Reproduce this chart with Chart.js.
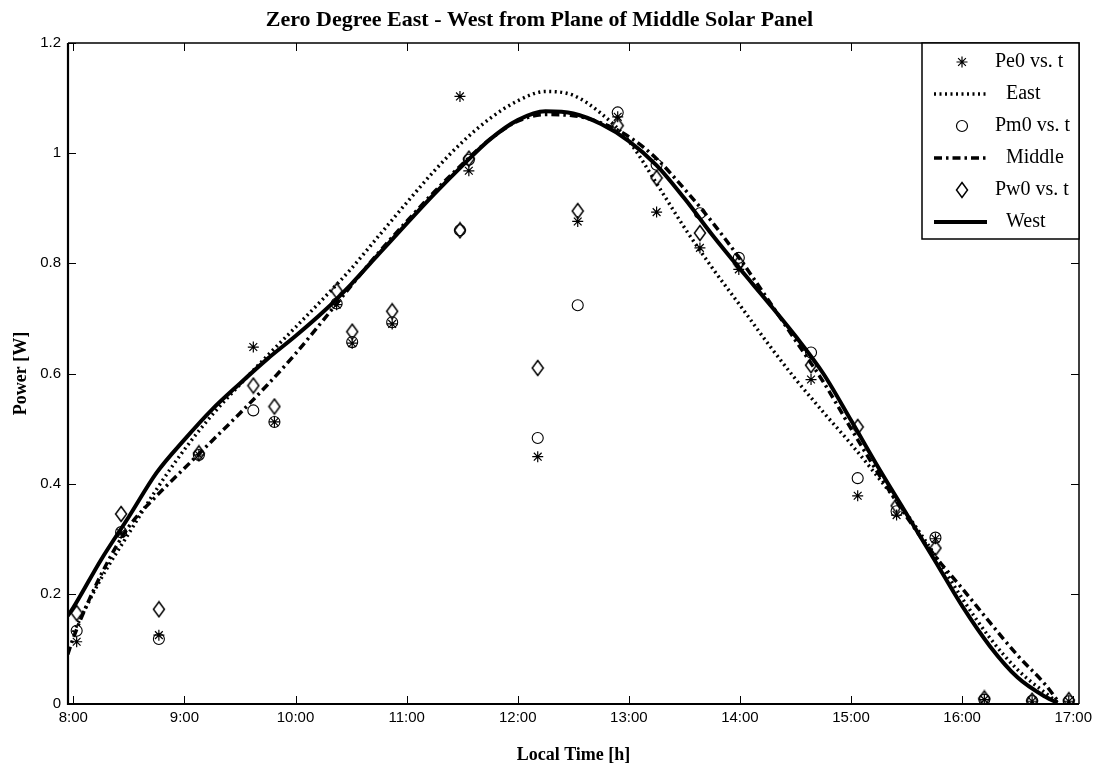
<!DOCTYPE html>
<html>
<head>
<meta charset="utf-8">
<title>Zero Degree East - West from Plane of Middle Solar Panel</title>
<script src="https://cdn.jsdelivr.net/npm/chart.js@4"></script>
<style>
  body { margin: 0; background: #fff; }
  #wrap { width: 1099px; height: 774px; }
</style>
</head>
<body>
<div id="wrap"><canvas id="chart" width="1099" height="774"></canvas></div>
<script>
// Measured points (local time in hours, power in W)
var sampleHours = [8.03, 8.43, 8.77, 9.13, 9.62, 9.81, 10.37, 10.51, 10.87, 11.48, 11.56, 12.18,
                   12.54, 12.90, 13.25, 13.64, 13.99, 14.64, 15.06, 15.41, 15.76, 16.20, 16.63, 16.96];
var pe0 = [0.113, 0.31, 0.125, 0.452, 0.648, 0.512, 0.725, 0.655, 0.69, 1.103, 0.968, 0.449,
           0.876, 1.066, 0.893, 0.828, 0.789, 0.589, 0.378, 0.343, 0.30, 0.008, 0.005, 0.005];
var pm0 = [0.133, 0.312, 0.118, 0.452, 0.533, 0.512, 0.727, 0.657, 0.693, 0.86, 0.988, 0.483,
           0.724, 1.074, 0.979, 0.891, 0.81, 0.638, 0.41, 0.35, 0.302, 0.008, 0.006, 0.005];
var pw0 = [0.165, 0.345, 0.172, 0.455, 0.578, 0.54, 0.75, 0.676, 0.713, 0.86, 0.99, 0.61,
           0.895, 1.05, 0.955, 0.855, 0.80, 0.615, 0.503, 0.36, 0.283, 0.01, 0.006, 0.007];

// Fitted curves
var fitHours = [7.95, 8.0, 8.25, 8.5, 8.75, 9.0, 9.25, 9.5, 9.75, 10.0, 10.25, 10.5, 10.75, 11.0,
                11.25, 11.5, 11.75, 12.0, 12.25, 12.5, 12.75, 13.0, 13.25, 13.5, 13.75, 14.0,
                14.25, 14.5, 14.75, 15.0, 15.25, 15.5, 15.75, 16.0, 16.25, 16.5, 16.75, 16.86];
var eastFit = [null, 0.13, 0.228, 0.31, 0.39, 0.462, 0.525, 0.58, 0.633, 0.684, 0.736, 0.79, 0.85, 0.91,
               0.968, 1.02, 1.063, 1.095, 1.112, 1.105, 1.072, 1.022, 0.945, 0.865, 0.792, 0.724,
               0.655, 0.59, 0.53, 0.472, 0.41, 0.345, 0.272, 0.192, 0.12, 0.062, 0.02, 0.003];
var middleFit = [0.09, 0.12, 0.235, 0.322, 0.378, 0.428, 0.478, 0.528, 0.58, 0.636, 0.697, 0.759, 0.82, 0.876,
                 0.93, 0.98, 1.025, 1.058, 1.07, 1.068, 1.055, 1.03, 0.99, 0.935, 0.875, 0.808,
                 0.735, 0.66, 0.585, 0.5, 0.417, 0.34, 0.27, 0.21, 0.148, 0.088, 0.035, 0.006];
var westFit = [0.16, 0.175, 0.262, 0.34, 0.42, 0.48, 0.535, 0.582, 0.627, 0.668, 0.712, 0.762, 0.817, 0.872,
               0.926, 0.977, 1.025, 1.06, 1.076, 1.072, 1.053, 1.022, 0.978, 0.918, 0.852, 0.79,
               0.73, 0.668, 0.6, 0.515, 0.428, 0.345, 0.262, 0.178, 0.105, 0.048, 0.013, 0.002];

var xTickValues = [8, 9, 10, 11, 12, 13, 14, 15, 16, 17];
var xTickLabels = ["8:00", "9:00", "10:00", "11:00", "12:00", "13:00", "14:00", "15:00", "16:00", "17:00"];
var yTickValues = [0, 0.2, 0.4, 0.6, 0.8, 1.0, 1.2];
var yTickLabels = ["0", "0.2", "0.4", "0.6", "0.8", "1", "1.2"];

function toPoints(xs, ys) {
    var out = [];
    for (var i = 0; i < xs.length; i++) {
        if (ys[i] !== null) out.push({ x: xs[i], y: ys[i] });
    }
    return out;
}

// tall open diamond like the MATLAB marker
var diamond = document.createElement("canvas");
diamond.width = 14;
diamond.height = 18;
(function() {
    var d = diamond.getContext("2d");
    d.strokeStyle = "#000";
    d.lineWidth = 1.5;
    d.beginPath();
    d.moveTo(7, 1.5); d.lineTo(12.5, 9); d.lineTo(7, 16.5); d.lineTo(1.5, 9); d.closePath();
    d.stroke();
})();

var serif = "'Liberation Serif', 'Times New Roman', serif";
var sans = "'Liberation Sans', Arial, sans-serif";

// frame with inward tick marks
var framePlugin = {
    id: "frame",
    afterDatasetsDraw: function(chart) {
        var ctx = chart.ctx, a = chart.chartArea;
        var xs = chart.scales.x, ys = chart.scales.y;
        ctx.save();
        ctx.strokeStyle = "#000";
        ctx.lineWidth = 1;
        ctx.beginPath();
        xTickValues.forEach(function(v) {
            var px = Math.round(xs.getPixelForValue(v)) + 0.5;
            ctx.moveTo(px, a.bottom); ctx.lineTo(px, a.bottom - 8);
            ctx.moveTo(px, a.top); ctx.lineTo(px, a.top + 8);
        });
        yTickValues.forEach(function(v) {
            var py = Math.round(ys.getPixelForValue(v)) + 0.5;
            ctx.moveTo(a.left, py); ctx.lineTo(a.left + 8, py);
            ctx.moveTo(a.right, py); ctx.lineTo(a.right - 8, py);
        });
        ctx.stroke();
        ctx.lineWidth = 1.5;
        ctx.beginPath();
        ctx.moveTo(a.left, a.top); ctx.lineTo(a.right, a.top); ctx.lineTo(a.right, a.bottom);
        ctx.stroke();
        ctx.lineWidth = 2.2;
        ctx.beginPath();
        ctx.moveTo(a.left, a.top); ctx.lineTo(a.left, a.bottom); ctx.lineTo(a.right, a.bottom);
        ctx.stroke();
        ctx.restore();
    }
};

// legend box in the upper right corner
var legendPlugin = {
    id: "boxLegend",
    afterDraw: function(chart) {
        var ctx = chart.ctx, a = chart.chartArea;
        var x1 = 922, y1 = a.top, x2 = a.right, y2 = 239;
        ctx.save();
        ctx.fillStyle = "#fff";
        ctx.fillRect(x1, y1, x2 - x1, y2 - y1);
        ctx.strokeStyle = "#000";
        ctx.lineWidth = 1.5;
        ctx.strokeRect(x1, y1, x2 - x1, y2 - y1);
        ctx.font = "20px " + serif;
        ctx.fillStyle = "#000";
        ctx.textBaseline = "middle";
        chart.data.datasets.forEach(function(ds, i) {
            var y = 62 + i * 32;
            var mx = 962;
            ctx.strokeStyle = "#000";
            if (ds.showLine) {
                ctx.lineWidth = ds.borderWidth;
                ctx.setLineDash(ds.borderDash || []);
                ctx.beginPath();
                ctx.moveTo(934, y); ctx.lineTo(987, y);
                ctx.stroke();
                ctx.setLineDash([]);
                ctx.fillText(ds.label, 1006, y);
            } else {
                ctx.lineWidth = 1.2;
                if (ds.pointStyle === "star") {
                    var r = 5.5;
                    ctx.beginPath();
                    for (var k = 0; k < 4; k++) {
                        var ang = k * Math.PI / 4;
                        ctx.moveTo(mx - r * Math.cos(ang), y - r * Math.sin(ang));
                        ctx.lineTo(mx + r * Math.cos(ang), y + r * Math.sin(ang));
                    }
                    ctx.stroke();
                } else if (ds.pointStyle === "circle") {
                    ctx.beginPath();
                    ctx.arc(mx, y, 5.5, 0, Math.PI * 2);
                    ctx.stroke();
                } else {
                    ctx.drawImage(diamond, mx - diamond.width / 2, y - diamond.height / 2);
                }
                ctx.fillText(ds.label, 995, y);
            }
        });
        ctx.restore();
    }
};

var ctx = document.getElementById("chart").getContext("2d");
var chart = new Chart(ctx, {
    type: "scatter",
    data: {
        datasets: [
            { label: "Pe0 vs. t", data: toPoints(sampleHours, pe0), showLine: false,
              pointStyle: "star", pointRadius: 5.5, borderColor: "#000", borderWidth: 1.2 },
            { label: "East", data: toPoints(fitHours, eastFit), showLine: true, pointRadius: 0,
              borderColor: "#000", borderWidth: 3.5, borderDash: [2, 3.5], cubicInterpolationMode: "monotone", fill: false },
            { label: "Pm0 vs. t", data: toPoints(sampleHours, pm0), showLine: false,
              pointStyle: "circle", pointRadius: 5.5, borderColor: "#000", backgroundColor: "rgba(0,0,0,0)", borderWidth: 1.1 },
            { label: "Middle", data: toPoints(fitHours, middleFit), showLine: true, pointRadius: 0,
              borderColor: "#000", borderWidth: 3.5, borderDash: [8, 4, 2.5, 4], cubicInterpolationMode: "monotone", fill: false },
            { label: "Pw0 vs. t", data: toPoints(sampleHours, pw0), showLine: false,
              pointStyle: diamond, pointRadius: 6, borderColor: "#000", borderWidth: 1 },
            { label: "West", data: toPoints(fitHours, westFit), showLine: true, pointRadius: 0,
              borderColor: "#000", borderWidth: 4, cubicInterpolationMode: "monotone", fill: false }
        ]
    },
    options: {
        responsive: false,
        animation: false,
        devicePixelRatio: 1,
        layout: { padding: { left: 0, right: 20, top: 0, bottom: 0 } },
        plugins: {
            legend: { display: false },
            tooltip: { enabled: false },
            title: {
                display: true,
                text: "Zero Degree East - West from Plane of Middle Solar Panel",
                color: "#000",
                font: { family: serif, size: 22, weight: "bold" },
                padding: { top: 7, bottom: 9.6 }
            }
        },
        scales: {
            x: {
                type: "linear",
                min: 7.952,
                max: 17.052,
                grid: { display: false, drawTicks: false },
                border: { display: false },
                afterBuildTicks: function(scale) {
                    scale.ticks = xTickValues.map(function(v) { return { value: v }; });
                },
                afterFit: function(scale) { scale.height = 70; },
                ticks: {
                    padding: 5,
                    color: "#000",
                    font: { family: sans, size: 15 },
                    maxRotation: 0,
                    autoSkip: false,
                    callback: function(value, index) { return xTickLabels[index]; }
                },
                title: {
                    display: true,
                    text: "Local Time [h]",
                    color: "#000",
                    font: { family: serif, size: 18, weight: "bold" },
                    padding: { top: 0, bottom: 8 }
                }
            },
            y: {
                type: "linear",
                min: 0,
                max: 1.2,
                grid: { display: false, drawTicks: false },
                border: { display: false },
                afterBuildTicks: function(scale) {
                    scale.ticks = yTickValues.map(function(v) { return { value: v }; });
                },
                afterFit: function(scale) { scale.width = 68; },
                ticks: {
                    padding: 7,
                    color: "#000",
                    font: { family: sans, size: 15 },
                    callback: function(value, index) { return yTickLabels[index]; }
                },
                title: {
                    display: true,
                    text: "Power [W]",
                    color: "#000",
                    font: { family: serif, size: 18, weight: "bold" },
                    padding: { top: 11, bottom: 0 }
                }
            }
        }
    },
    plugins: [framePlugin, legendPlugin]
});
</script>
</body>
</html>
